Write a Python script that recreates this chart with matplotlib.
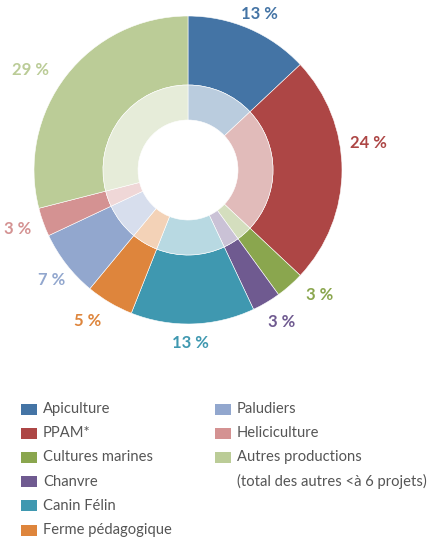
import matplotlib
matplotlib.use("Agg")
import matplotlib.pyplot as plt
from matplotlib.colors import to_rgb
from matplotlib.patches import Rectangle

categories = ["Apiculture", "PPAM*", "Cultures marines", "Chanvre", "Canin Félin",
              "Ferme pédagogique", "Paludiers", "Heliciculture", "Autres productions"]
shares = [13, 24, 3, 3, 13, 5, 7, 3, 29]
colors = ["#4474A5", "#AD4645", "#8AA64E", "#6F5A90", "#3F98B0",
          "#DE853C", "#92A7CE", "#D49292", "#BBCC97"]
# label anchor points (pixel coords, y from top)
label_pos = [(259, 14), (368, 143), (320, 295), (282, 322), (190, 343),
             (88, 321), (52, 280), (18, 229), (30, 70)]

W, H = 429, 538
fig = plt.figure(figsize=(W / 100, H / 100), dpi=100)
ax = fig.add_axes([0, 0, 1, 1])

cx, cy = 188, H - 170
r_out, r_mid, r_in = 154, 85, 50


def lighten(c, a=0.37):
    r, g, b = to_rgb(c)
    return (1 - a * (1 - r), 1 - a * (1 - g), 1 - a * (1 - b))


ax.pie(shares, colors=colors, radius=r_out, center=(cx, cy), startangle=90,
       counterclock=False, wedgeprops=dict(width=r_out - r_mid, linewidth=0.4,
                                           edgecolor="white"))
ax.pie(shares, colors=[lighten(c) for c in colors], radius=r_mid, center=(cx, cy),
       startangle=90, counterclock=False,
       wedgeprops=dict(width=r_mid - r_in, linewidth=0.4, edgecolor="white"))

for (x, y), v, c in zip(label_pos, shares, colors):
    ax.text(x, H - y, f"{v} %", color=c, fontsize=12, fontweight="bold",
            family="Lato", ha="center", va="center")

# legend
col_x = [21, 215]
row_y0, row_dy = 409, 24.2
rows = 6
for i, (name, c) in enumerate(zip(categories, colors)):
    col, row = divmod(i, rows)
    x = col_x[col]
    y = H - (row_y0 + row * row_dy)
    ax.add_patch(Rectangle((x, y - 5.5), 16, 11, facecolor=c, edgecolor="none"))
    ax.text(x + 22, y, name, fontsize=10.6, family="Lato", color="#555555",
            ha="left", va="center")
ax.text(col_x[1] + 22, H - (row_y0 + 3 * row_dy), "(total des autres <à 6 projets)",
        fontsize=10.6, family="Lato", color="#555555", ha="left", va="center")

ax.set_xlim(0, W)
ax.set_ylim(0, H)
ax.set_aspect("auto")
ax.axis("off")
fig.savefig("out.png", dpi=100)
